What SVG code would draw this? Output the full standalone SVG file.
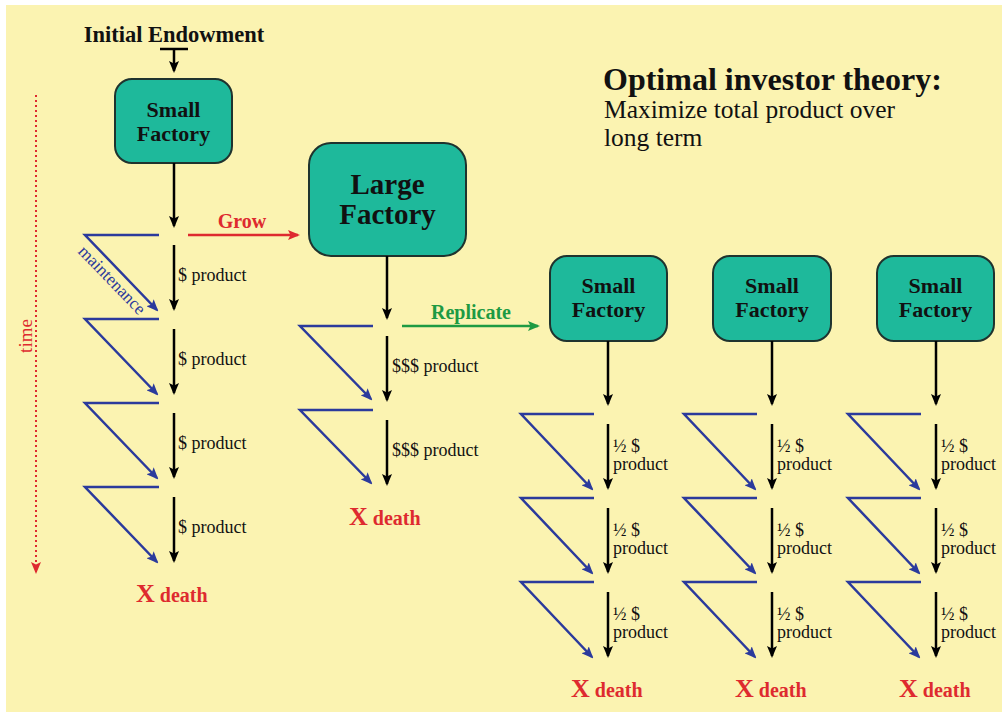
<svg xmlns="http://www.w3.org/2000/svg" width="1004" height="716" viewBox="0 0 1004 716">
<style>
.bg{fill:#FBF3B1}
.box{fill:#1EB99B;stroke:#1F332E;stroke-width:2}
.bt{font-family:"Liberation Serif",serif;font-weight:bold;fill:#111;text-anchor:middle}
.blk{stroke:#000;stroke-width:2.5;fill:none}
.blu{stroke:#2B3A9C;stroke-width:2.5;fill:none}
.lbl{font-family:"Liberation Serif",serif;font-size:18px;fill:#111}
.red{fill:#DE2A2F;font-family:"Liberation Serif",serif;font-weight:bold}
</style>
<defs>
<marker id="ab" viewBox="0 0 12 10" refX="10" refY="5" markerWidth="12" markerHeight="10" orient="auto" markerUnits="userSpaceOnUse"><path d="M0,0 L12,5 L0,10 L2.5,5 z" fill="#000"/></marker>
<marker id="au" viewBox="0 0 12 10" refX="10" refY="5" markerWidth="12" markerHeight="10" orient="auto" markerUnits="userSpaceOnUse"><path d="M0,0 L12,5 L0,10 L2.5,5 z" fill="#2B3A9C"/></marker>
<marker id="ar" viewBox="0 0 12 10" refX="10" refY="5" markerWidth="12" markerHeight="10" orient="auto" markerUnits="userSpaceOnUse"><path d="M0,0 L12,5 L0,10 L2.5,5 z" fill="#DE2A2F"/></marker>
<marker id="ag" viewBox="0 0 12 10" refX="10" refY="5" markerWidth="12" markerHeight="10" orient="auto" markerUnits="userSpaceOnUse"><path d="M0,0 L12,5 L0,10 L2.5,5 z" fill="#1E9A43"/></marker>
</defs>
<rect class="bg" x="6" y="5" width="996" height="707"/>

<text x="174" y="42" class="bt" font-size="22.5">Initial Endowment</text>
<g id="title" font-family="Liberation Serif,serif">
<text x="603" y="90" font-size="32" font-weight="bold" fill="#111">Optimal investor theory:</text>
<text x="604" y="118" font-size="25.5" fill="#111">Maximize total product over</text>
<text x="604" y="146" font-size="25.5" fill="#111">long term</text>
</g>

<g id="time">
<line x1="36" y1="95" x2="36" y2="572" stroke="#DE2A2F" stroke-width="2" stroke-dasharray="2,3" marker-end="url(#ar)"/>
<text transform="translate(32,336) rotate(-90)" text-anchor="middle" font-family="Liberation Serif,serif" font-size="19" fill="#DE2A2F">time</text>
</g>

<g id="small1">
<rect class="box" x="115" y="79" width="117" height="84" rx="17"/>
<text x="173.5" y="117" class="bt" font-size="22">Small</text>
<text x="173.5" y="141" class="bt" font-size="22">Factory</text>
</g>
<g id="large">
<rect class="box" x="309" y="143" width="157" height="113" rx="22"/>
<text x="387.5" y="194" class="bt" font-size="29">Large</text>
<text x="387.5" y="224" class="bt" font-size="29">Factory</text>
</g>
<g id="small2">
<rect class="box" x="550" y="256" width="117" height="85" rx="17"/>
<text x="608.5" y="293" class="bt" font-size="22">Small</text>
<text x="608.5" y="317" class="bt" font-size="22">Factory</text>
</g>
<g id="small3">
<rect class="box" x="713" y="256" width="118" height="85" rx="17"/>
<text x="772" y="293" class="bt" font-size="22">Small</text>
<text x="772" y="317" class="bt" font-size="22">Factory</text>
</g>
<g id="small4">
<rect class="box" x="877" y="256" width="117" height="85" rx="17"/>
<text x="935.5" y="293" class="bt" font-size="22">Small</text>
<text x="935.5" y="317" class="bt" font-size="22">Factory</text>
</g>

<g id="connectors">
<line class="blk" x1="160" y1="49" x2="188" y2="49"/>
<line class="blk" x1="174" y1="49" x2="174" y2="71" marker-end="url(#ab)"/>
<line class="blk" x1="174" y1="163" x2="174" y2="226" marker-end="url(#ab)"/>
<path class="blu" d="M159,235 H85 L157,310" marker-end="url(#au)"/>
<path class="blu" d="M159,319 H85 L157,394" marker-end="url(#au)"/>
<path class="blu" d="M159,403 H85 L157,478" marker-end="url(#au)"/>
<path class="blu" d="M159,487 H85 L157,562" marker-end="url(#au)"/>
<line class="blk" x1="174" y1="245" x2="174" y2="309" marker-end="url(#ab)"/>
<line class="blk" x1="174" y1="329" x2="174" y2="393" marker-end="url(#ab)"/>
<line class="blk" x1="174" y1="413" x2="174" y2="477" marker-end="url(#ab)"/>
<line class="blk" x1="174" y1="497" x2="174" y2="561" marker-end="url(#ab)"/>
<line x1="188" y1="235" x2="298" y2="235" stroke="#DE2A2F" stroke-width="2.5" marker-end="url(#ar)"/>
<line class="blk" x1="387" y1="256" x2="387" y2="318" marker-end="url(#ab)"/>
<path class="blu" d="M373,326 H300 L371,399" marker-end="url(#au)"/>
<path class="blu" d="M373,410 H300 L371,483" marker-end="url(#au)"/>
<line class="blk" x1="387" y1="336" x2="387" y2="400" marker-end="url(#ab)"/>
<line class="blk" x1="387" y1="420" x2="387" y2="484" marker-end="url(#ab)"/>
<line x1="402" y1="326" x2="538" y2="326" stroke="#1E9A43" stroke-width="2.5" marker-end="url(#ag)"/>
<g id="col2">
<line class="blk" x1="608" y1="341" x2="608" y2="404" marker-end="url(#ab)"/>
<path class="blu" d="M594,414 H521 L592,489" marker-end="url(#au)"/>
<path class="blu" d="M594,498 H521 L592,573" marker-end="url(#au)"/>
<path class="blu" d="M594,582 H521 L592,657" marker-end="url(#au)"/>
<line class="blk" x1="608" y1="424" x2="608" y2="488" marker-end="url(#ab)"/>
<line class="blk" x1="608" y1="508" x2="608" y2="572" marker-end="url(#ab)"/>
<line class="blk" x1="608" y1="592" x2="608" y2="656" marker-end="url(#ab)"/>
</g>
<g id="col3">
<line class="blk" x1="772" y1="341" x2="772" y2="404" marker-end="url(#ab)"/>
<path class="blu" d="M757,414 H684 L755,489" marker-end="url(#au)"/>
<path class="blu" d="M757,498 H684 L755,573" marker-end="url(#au)"/>
<path class="blu" d="M757,582 H684 L755,657" marker-end="url(#au)"/>
<line class="blk" x1="772" y1="424" x2="772" y2="488" marker-end="url(#ab)"/>
<line class="blk" x1="772" y1="508" x2="772" y2="572" marker-end="url(#ab)"/>
<line class="blk" x1="772" y1="592" x2="772" y2="656" marker-end="url(#ab)"/>
</g>
<g id="col4">
<line class="blk" x1="936" y1="341" x2="936" y2="404" marker-end="url(#ab)"/>
<path class="blu" d="M921,414 H848 L919,489" marker-end="url(#au)"/>
<path class="blu" d="M921,498 H848 L919,573" marker-end="url(#au)"/>
<path class="blu" d="M921,582 H848 L919,657" marker-end="url(#au)"/>
<line class="blk" x1="936" y1="424" x2="936" y2="488" marker-end="url(#ab)"/>
<line class="blk" x1="936" y1="508" x2="936" y2="572" marker-end="url(#ab)"/>
<line class="blk" x1="936" y1="592" x2="936" y2="656" marker-end="url(#ab)"/>
</g>
</g>

<g id="labels">
<text x="242" y="228" class="red" font-size="20" text-anchor="middle">Grow</text>
<text x="471" y="319" font-family="Liberation Serif,serif" font-weight="bold" font-size="20" fill="#1E9A43" text-anchor="middle">Replicate</text>
<text transform="translate(108,284) rotate(46)" text-anchor="middle" font-family="Liberation Serif,serif" font-size="17.5" fill="#2B3A9C">maintenance</text>
<text class="lbl" x="178" y="281">$ product</text>
<text class="lbl" x="178" y="365">$ product</text>
<text class="lbl" x="178" y="449">$ product</text>
<text class="lbl" x="178" y="533">$ product</text>
<text class="lbl" x="392" y="372">$$$ product</text>
<text class="lbl" x="392" y="456">$$$ product</text>
<text class="lbl" x="613"><tspan x="613" y="452">½ $</tspan><tspan x="613" y="470">product</tspan></text>
<text class="lbl" x="613"><tspan x="613" y="536">½ $</tspan><tspan x="613" y="554">product</tspan></text>
<text class="lbl" x="613"><tspan x="613" y="620">½ $</tspan><tspan x="613" y="638">product</tspan></text>
<text class="lbl" x="777"><tspan x="777" y="452">½ $</tspan><tspan x="777" y="470">product</tspan></text>
<text class="lbl" x="777"><tspan x="777" y="536">½ $</tspan><tspan x="777" y="554">product</tspan></text>
<text class="lbl" x="777"><tspan x="777" y="620">½ $</tspan><tspan x="777" y="638">product</tspan></text>
<text class="lbl" x="941"><tspan x="941" y="452">½ $</tspan><tspan x="941" y="470">product</tspan></text>
<text class="lbl" x="941"><tspan x="941" y="536">½ $</tspan><tspan x="941" y="554">product</tspan></text>
<text class="lbl" x="941"><tspan x="941" y="620">½ $</tspan><tspan x="941" y="638">product</tspan></text>
<text class="red" x="136" y="602" font-size="26">X<tspan font-size="20" dx="5">death</tspan></text>
<text class="red" x="349" y="525" font-size="26">X<tspan font-size="20" dx="5">death</tspan></text>
<text class="red" x="571" y="697" font-size="26">X<tspan font-size="20" dx="5">death</tspan></text>
<text class="red" x="735" y="697" font-size="26">X<tspan font-size="20" dx="5">death</tspan></text>
<text class="red" x="899" y="697" font-size="26">X<tspan font-size="20" dx="5">death</tspan></text>
</g>
</svg>
